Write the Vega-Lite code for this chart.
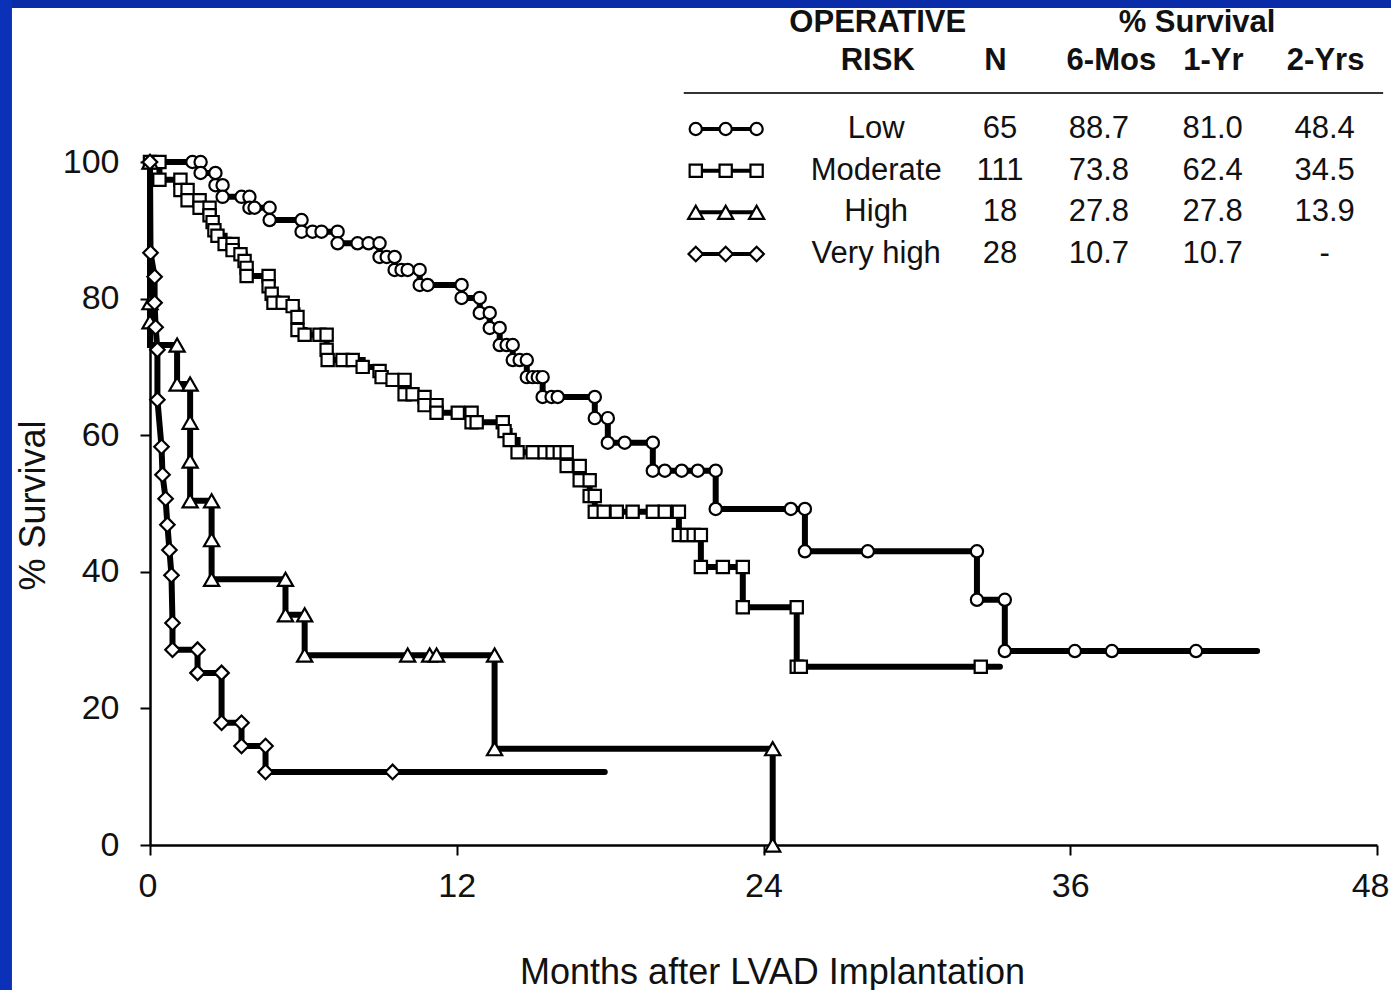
{
  "$schema": "https://vega.github.io/schema/vega-lite/v6.json",
  "width": 1227,
  "height": 683,
  "autosize": {"type": "none"},
  "padding": {"left": 150, "top": 162, "right": 14, "bottom": 145},
  "background": "white",
  "config": {"view": {"stroke": null}, "font": "Liberation Sans"},
  "datasets": {
    "km": [
      {"risk":"Low","month":0,"survival":100,"kind":"event"},
      {"risk":"Low","month":1.66,"survival":100,"kind":"event"},
      {"risk":"Low","month":1.98,"survival":100,"kind":"event"},
      {"risk":"Low","month":1.98,"survival":98.4,"kind":"event"},
      {"risk":"Low","month":2.56,"survival":98.4,"kind":"event"},
      {"risk":"Low","month":2.56,"survival":96.6,"kind":"event"},
      {"risk":"Low","month":2.84,"survival":96.6,"kind":"event"},
      {"risk":"Low","month":2.84,"survival":94.9,"kind":"event"},
      {"risk":"Low","month":3.58,"survival":94.9,"kind":"event"},
      {"risk":"Low","month":3.89,"survival":94.9,"kind":"event"},
      {"risk":"Low","month":3.89,"survival":93.3,"kind":"event"},
      {"risk":"Low","month":4.09,"survival":93.3,"kind":"event"},
      {"risk":"Low","month":4.68,"survival":93.3,"kind":"event"},
      {"risk":"Low","month":4.68,"survival":91.5,"kind":"event"},
      {"risk":"Low","month":5.93,"survival":91.5,"kind":"event"},
      {"risk":"Low","month":5.93,"survival":89.8,"kind":"event"},
      {"risk":"Low","month":6.36,"survival":89.8,"kind":"event"},
      {"risk":"Low","month":6.71,"survival":89.8,"kind":"event"},
      {"risk":"Low","month":7.34,"survival":89.8,"kind":"event"},
      {"risk":"Low","month":7.34,"survival":88.1,"kind":"event"},
      {"risk":"Low","month":8.12,"survival":88.1,"kind":"event"},
      {"risk":"Low","month":8.55,"survival":88.1,"kind":"event"},
      {"risk":"Low","month":8.98,"survival":88.1,"kind":"event"},
      {"risk":"Low","month":8.98,"survival":86.1,"kind":"event"},
      {"risk":"Low","month":9.26,"survival":86.1,"kind":"event"},
      {"risk":"Low","month":9.57,"survival":86.1,"kind":"event"},
      {"risk":"Low","month":9.57,"survival":84.2,"kind":"event"},
      {"risk":"Low","month":9.84,"survival":84.2,"kind":"event"},
      {"risk":"Low","month":10.08,"survival":84.2,"kind":"event"},
      {"risk":"Low","month":10.55,"survival":84.2,"kind":"event"},
      {"risk":"Low","month":10.55,"survival":82.0,"kind":"event"},
      {"risk":"Low","month":10.86,"survival":82.0,"kind":"event"},
      {"risk":"Low","month":12.19,"survival":82.0,"kind":"event"},
      {"risk":"Low","month":12.19,"survival":80.1,"kind":"event"},
      {"risk":"Low","month":12.90,"survival":80.1,"kind":"event"},
      {"risk":"Low","month":12.90,"survival":77.9,"kind":"event"},
      {"risk":"Low","month":13.29,"survival":77.9,"kind":"event"},
      {"risk":"Low","month":13.29,"survival":75.7,"kind":"event"},
      {"risk":"Low","month":13.68,"survival":75.7,"kind":"event"},
      {"risk":"Low","month":13.68,"survival":73.2,"kind":"event"},
      {"risk":"Low","month":13.95,"survival":73.2,"kind":"event"},
      {"risk":"Low","month":14.19,"survival":73.2,"kind":"event"},
      {"risk":"Low","month":14.19,"survival":71.0,"kind":"event"},
      {"risk":"Low","month":14.46,"survival":71.0,"kind":"event"},
      {"risk":"Low","month":14.74,"survival":71.0,"kind":"event"},
      {"risk":"Low","month":14.74,"survival":68.5,"kind":"event"},
      {"risk":"Low","month":14.97,"survival":68.5,"kind":"event"},
      {"risk":"Low","month":15.17,"survival":68.5,"kind":"event"},
      {"risk":"Low","month":15.36,"survival":68.5,"kind":"event"},
      {"risk":"Low","month":15.36,"survival":65.6,"kind":"event"},
      {"risk":"Low","month":15.71,"survival":65.6,"kind":"event"},
      {"risk":"Low","month":15.95,"survival":65.6,"kind":"event"},
      {"risk":"Low","month":17.40,"survival":65.6,"kind":"event"},
      {"risk":"Low","month":17.40,"survival":62.5,"kind":"event"},
      {"risk":"Low","month":17.91,"survival":62.5,"kind":"event"},
      {"risk":"Low","month":17.91,"survival":58.9,"kind":"event"},
      {"risk":"Low","month":18.57,"survival":58.9,"kind":"event"},
      {"risk":"Low","month":19.67,"survival":58.9,"kind":"event"},
      {"risk":"Low","month":19.67,"survival":54.8,"kind":"event"},
      {"risk":"Low","month":20.14,"survival":54.8,"kind":"event"},
      {"risk":"Low","month":20.80,"survival":54.8,"kind":"event"},
      {"risk":"Low","month":21.43,"survival":54.8,"kind":"event"},
      {"risk":"Low","month":22.13,"survival":54.8,"kind":"event"},
      {"risk":"Low","month":22.13,"survival":49.2,"kind":"event"},
      {"risk":"Low","month":25.07,"survival":49.2,"kind":"event"},
      {"risk":"Low","month":25.62,"survival":49.2,"kind":"event"},
      {"risk":"Low","month":25.62,"survival":43.0,"kind":"event"},
      {"risk":"Low","month":28.08,"survival":43.0,"kind":"event"},
      {"risk":"Low","month":32.35,"survival":43.0,"kind":"event"},
      {"risk":"Low","month":32.35,"survival":35.9,"kind":"event"},
      {"risk":"Low","month":33.44,"survival":35.9,"kind":"event"},
      {"risk":"Low","month":33.44,"survival":28.4,"kind":"event"},
      {"risk":"Low","month":36.18,"survival":28.4,"kind":"event"},
      {"risk":"Low","month":37.63,"survival":28.4,"kind":"event"},
      {"risk":"Low","month":40.92,"survival":28.4,"kind":"event"},
      {"risk":"Low","month":43.31,"survival":28.4,"kind":"end"},

      {"risk":"Moderate","month":0,"survival":100,"kind":"event"},
      {"risk":"Moderate","month":0.37,"survival":100,"kind":"event"},
      {"risk":"Moderate","month":0.37,"survival":97.4,"kind":"event"},
      {"risk":"Moderate","month":1.19,"survival":97.4,"kind":"event"},
      {"risk":"Moderate","month":1.19,"survival":95.9,"kind":"event"},
      {"risk":"Moderate","month":1.47,"survival":95.9,"kind":"event"},
      {"risk":"Moderate","month":1.47,"survival":94.4,"kind":"event"},
      {"risk":"Moderate","month":1.94,"survival":94.4,"kind":"event"},
      {"risk":"Moderate","month":1.94,"survival":93.3,"kind":"event"},
      {"risk":"Moderate","month":2.33,"survival":93.3,"kind":"event"},
      {"risk":"Moderate","month":2.33,"survival":92.2,"kind":"event"},
      {"risk":"Moderate","month":2.45,"survival":92.2,"kind":"corner"},
      {"risk":"Moderate","month":2.45,"survival":91.2,"kind":"event"},
      {"risk":"Moderate","month":2.52,"survival":91.2,"kind":"corner"},
      {"risk":"Moderate","month":2.52,"survival":90.0,"kind":"event"},
      {"risk":"Moderate","month":2.64,"survival":90.0,"kind":"corner"},
      {"risk":"Moderate","month":2.64,"survival":89.2,"kind":"event"},
      {"risk":"Moderate","month":2.92,"survival":89.2,"kind":"corner"},
      {"risk":"Moderate","month":2.92,"survival":88.0,"kind":"event"},
      {"risk":"Moderate","month":3.23,"survival":88.0,"kind":"event"},
      {"risk":"Moderate","month":3.23,"survival":87.1,"kind":"event"},
      {"risk":"Moderate","month":3.54,"survival":87.1,"kind":"corner"},
      {"risk":"Moderate","month":3.54,"survival":86.5,"kind":"event"},
      {"risk":"Moderate","month":3.70,"survival":86.5,"kind":"corner"},
      {"risk":"Moderate","month":3.70,"survival":85.5,"kind":"event"},
      {"risk":"Moderate","month":3.78,"survival":85.5,"kind":"corner"},
      {"risk":"Moderate","month":3.78,"survival":84.5,"kind":"event"},
      {"risk":"Moderate","month":3.78,"survival":83.3,"kind":"event"},
      {"risk":"Moderate","month":4.64,"survival":83.3,"kind":"event"},
      {"risk":"Moderate","month":4.64,"survival":81.8,"kind":"event"},
      {"risk":"Moderate","month":4.76,"survival":81.8,"kind":"corner"},
      {"risk":"Moderate","month":4.76,"survival":80.7,"kind":"event"},
      {"risk":"Moderate","month":4.83,"survival":80.7,"kind":"corner"},
      {"risk":"Moderate","month":4.83,"survival":79.4,"kind":"event"},
      {"risk":"Moderate","month":5.19,"survival":79.4,"kind":"event"},
      {"risk":"Moderate","month":5.19,"survival":78.9,"kind":"corner"},
      {"risk":"Moderate","month":5.58,"survival":78.9,"kind":"event"},
      {"risk":"Moderate","month":5.58,"survival":78.3,"kind":"corner"},
      {"risk":"Moderate","month":5.77,"survival":78.3,"kind":"corner"},
      {"risk":"Moderate","month":5.77,"survival":77.3,"kind":"event"},
      {"risk":"Moderate","month":5.77,"survival":75.4,"kind":"event"},
      {"risk":"Moderate","month":6.05,"survival":75.4,"kind":"corner"},
      {"risk":"Moderate","month":6.05,"survival":74.7,"kind":"event"},
      {"risk":"Moderate","month":6.63,"survival":74.7,"kind":"event"},
      {"risk":"Moderate","month":6.91,"survival":74.7,"kind":"event"},
      {"risk":"Moderate","month":6.91,"survival":72.5,"kind":"event"},
      {"risk":"Moderate","month":6.95,"survival":71.0,"kind":"event"},
      {"risk":"Moderate","month":7.53,"survival":71.0,"kind":"event"},
      {"risk":"Moderate","month":7.93,"survival":71.0,"kind":"event"},
      {"risk":"Moderate","month":8.32,"survival":71.0,"kind":"corner"},
      {"risk":"Moderate","month":8.32,"survival":70.0,"kind":"event"},
      {"risk":"Moderate","month":8.98,"survival":70.0,"kind":"corner"},
      {"risk":"Moderate","month":8.98,"survival":69.4,"kind":"event"},
      {"risk":"Moderate","month":9.06,"survival":69.4,"kind":"corner"},
      {"risk":"Moderate","month":9.06,"survival":68.5,"kind":"event"},
      {"risk":"Moderate","month":9.49,"survival":68.5,"kind":"corner"},
      {"risk":"Moderate","month":9.49,"survival":68.1,"kind":"event"},
      {"risk":"Moderate","month":9.96,"survival":68.1,"kind":"event"},
      {"risk":"Moderate","month":9.96,"survival":66.0,"kind":"event"},
      {"risk":"Moderate","month":10.27,"survival":66.0,"kind":"event"},
      {"risk":"Moderate","month":10.74,"survival":66.0,"kind":"corner"},
      {"risk":"Moderate","month":10.74,"survival":65.6,"kind":"event"},
      {"risk":"Moderate","month":10.74,"survival":64.4,"kind":"event"},
      {"risk":"Moderate","month":11.21,"survival":64.4,"kind":"event"},
      {"risk":"Moderate","month":11.21,"survival":63.3,"kind":"event"},
      {"risk":"Moderate","month":12.04,"survival":63.3,"kind":"event"},
      {"risk":"Moderate","month":12.58,"survival":63.3,"kind":"event"},
      {"risk":"Moderate","month":12.58,"survival":61.9,"kind":"event"},
      {"risk":"Moderate","month":12.78,"survival":61.9,"kind":"event"},
      {"risk":"Moderate","month":13.80,"survival":61.9,"kind":"event"},
      {"risk":"Moderate","month":13.87,"survival":61.9,"kind":"corner"},
      {"risk":"Moderate","month":13.87,"survival":60.6,"kind":"event"},
      {"risk":"Moderate","month":14.07,"survival":60.6,"kind":"corner"},
      {"risk":"Moderate","month":14.07,"survival":59.3,"kind":"event"},
      {"risk":"Moderate","month":14.38,"survival":59.3,"kind":"corner"},
      {"risk":"Moderate","month":14.38,"survival":57.5,"kind":"event"},
      {"risk":"Moderate","month":14.97,"survival":57.5,"kind":"event"},
      {"risk":"Moderate","month":15.44,"survival":57.5,"kind":"event"},
      {"risk":"Moderate","month":15.75,"survival":57.5,"kind":"event"},
      {"risk":"Moderate","month":16.03,"survival":57.5,"kind":"event"},
      {"risk":"Moderate","month":16.30,"survival":57.5,"kind":"event"},
      {"risk":"Moderate","month":16.30,"survival":55.5,"kind":"event"},
      {"risk":"Moderate","month":16.81,"survival":55.5,"kind":"event"},
      {"risk":"Moderate","month":16.81,"survival":53.4,"kind":"event"},
      {"risk":"Moderate","month":17.20,"survival":53.4,"kind":"event"},
      {"risk":"Moderate","month":17.20,"survival":51.1,"kind":"event"},
      {"risk":"Moderate","month":17.40,"survival":51.1,"kind":"event"},
      {"risk":"Moderate","month":17.40,"survival":48.8,"kind":"event"},
      {"risk":"Moderate","month":17.75,"survival":48.8,"kind":"event"},
      {"risk":"Moderate","month":18.26,"survival":48.8,"kind":"event"},
      {"risk":"Moderate","month":18.88,"survival":48.8,"kind":"event"},
      {"risk":"Moderate","month":19.67,"survival":48.8,"kind":"event"},
      {"risk":"Moderate","month":20.14,"survival":48.8,"kind":"event"},
      {"risk":"Moderate","month":20.69,"survival":48.8,"kind":"event"},
      {"risk":"Moderate","month":20.69,"survival":45.4,"kind":"event"},
      {"risk":"Moderate","month":21.00,"survival":45.4,"kind":"event"},
      {"risk":"Moderate","month":21.27,"survival":45.4,"kind":"event"},
      {"risk":"Moderate","month":21.55,"survival":45.4,"kind":"event"},
      {"risk":"Moderate","month":21.55,"survival":40.7,"kind":"event"},
      {"risk":"Moderate","month":22.41,"survival":40.7,"kind":"event"},
      {"risk":"Moderate","month":23.19,"survival":40.7,"kind":"event"},
      {"risk":"Moderate","month":23.19,"survival":34.8,"kind":"event"},
      {"risk":"Moderate","month":25.30,"survival":34.8,"kind":"event"},
      {"risk":"Moderate","month":25.30,"survival":26.1,"kind":"event"},
      {"risk":"Moderate","month":25.46,"survival":26.1,"kind":"event"},
      {"risk":"Moderate","month":32.50,"survival":26.1,"kind":"event"},
      {"risk":"Moderate","month":33.25,"survival":26.1,"kind":"end"},

      {"risk":"High","month":0,"survival":100,"kind":"event"},
      {"risk":"High","month":0,"survival":79.4,"kind":"event"},
      {"risk":"High","month":0,"survival":76.6,"kind":"event"},
      {"risk":"High","month":0,"survival":73.2,"kind":"corner"},
      {"risk":"High","month":1.06,"survival":73.2,"kind":"event"},
      {"risk":"High","month":1.06,"survival":67.5,"kind":"event"},
      {"risk":"High","month":1.57,"survival":67.5,"kind":"event"},
      {"risk":"High","month":1.57,"survival":61.9,"kind":"event"},
      {"risk":"High","month":1.57,"survival":56.2,"kind":"event"},
      {"risk":"High","month":1.57,"survival":50.4,"kind":"event"},
      {"risk":"High","month":2.41,"survival":50.4,"kind":"event"},
      {"risk":"High","month":2.41,"survival":44.7,"kind":"event"},
      {"risk":"High","month":2.41,"survival":38.9,"kind":"event"},
      {"risk":"High","month":5.30,"survival":38.9,"kind":"event"},
      {"risk":"High","month":5.30,"survival":33.7,"kind":"event"},
      {"risk":"High","month":6.05,"survival":33.7,"kind":"event"},
      {"risk":"High","month":6.05,"survival":27.8,"kind":"event"},
      {"risk":"High","month":10.08,"survival":27.8,"kind":"event"},
      {"risk":"High","month":10.94,"survival":27.8,"kind":"event"},
      {"risk":"High","month":11.21,"survival":27.8,"kind":"event"},
      {"risk":"High","month":13.48,"survival":27.8,"kind":"event"},
      {"risk":"High","month":13.48,"survival":14.1,"kind":"event"},
      {"risk":"High","month":24.36,"survival":14.1,"kind":"event"},
      {"risk":"High","month":24.36,"survival":0,"kind":"event"},

      {"risk":"Very high","month":0,"survival":100,"kind":"event"},
      {"risk":"Very high","month":0.02,"survival":86.7,"kind":"event"},
      {"risk":"Very high","month":0.18,"survival":83.2,"kind":"event"},
      {"risk":"Very high","month":0.18,"survival":79.4,"kind":"event"},
      {"risk":"Very high","month":0.22,"survival":75.8,"kind":"event"},
      {"risk":"Very high","month":0.29,"survival":72.5,"kind":"event"},
      {"risk":"Very high","month":0.29,"survival":65.2,"kind":"event"},
      {"risk":"Very high","month":0.45,"survival":58.3,"kind":"event"},
      {"risk":"Very high","month":0.49,"survival":54.2,"kind":"event"},
      {"risk":"Very high","month":0.61,"survival":50.7,"kind":"event"},
      {"risk":"Very high","month":0.68,"survival":46.9,"kind":"event"},
      {"risk":"Very high","month":0.76,"survival":43.2,"kind":"event"},
      {"risk":"Very high","month":0.84,"survival":39.5,"kind":"event"},
      {"risk":"Very high","month":0.88,"survival":32.5,"kind":"event"},
      {"risk":"Very high","month":0.88,"survival":28.6,"kind":"event"},
      {"risk":"Very high","month":1.86,"survival":28.6,"kind":"event"},
      {"risk":"Very high","month":1.86,"survival":25.2,"kind":"event"},
      {"risk":"Very high","month":2.80,"survival":25.2,"kind":"event"},
      {"risk":"Very high","month":2.80,"survival":17.9,"kind":"event"},
      {"risk":"Very high","month":3.58,"survival":17.9,"kind":"event"},
      {"risk":"Very high","month":3.58,"survival":14.5,"kind":"event"},
      {"risk":"Very high","month":4.52,"survival":14.5,"kind":"event"},
      {"risk":"Very high","month":4.52,"survival":10.7,"kind":"event"},
      {"risk":"Very high","month":9.49,"survival":10.7,"kind":"event"},
      {"risk":"Very high","month":17.79,"survival":10.7,"kind":"end"}
    ],
    "table": [
      {"risk":"Low","n":"65","m6":"88.7","y1":"81.0","y2":"48.4"},
      {"risk":"Moderate","n":"111","m6":"73.8","y1":"62.4","y2":"34.5"},
      {"risk":"High","n":"18","m6":"27.8","y1":"27.8","y2":"13.9"},
      {"risk":"Very high","n":"28","m6":"10.7","y1":"10.7","y2":"-"}
    ]
  },
  "layer": [
    {
      "layer": [
        {
          "data": {"name": "km"},
          "encoding": {
            "x": {
              "field": "month", "type": "quantitative",
              "title": "Months after LVAD Implantation",
              "scale": {"domain": [0, 48], "nice": false, "zero": false},
              "axis": {
                "orient": "bottom", "values": [0, 12, 24, 36, 48],
                "domain": true, "domainColor": "black", "domainWidth": 2.5, "grid": false,
                "tickSize": 10, "tickWidth": 2, "tickColor": "black",
                "labelFont": "Liberation Sans", "labelFontSize": 34, "labelColor": "#111111",
                "labelPadding": 14, "labelFlush": true, "labelFlushOffset": 12, "labelOverlap": false,
                "title": "Months after LVAD Implantation",
                "titleFont": "Liberation Sans", "titleFontSize": 36, "titleFontWeight": "normal", "titleColor": "#111111",
                "titleX": 622, "titleY": 138, "titleBaseline": "alphabetic", "titleAlign": "center"
              }
            },
            "y": {
              "field": "survival", "type": "quantitative",
              "title": "% Survival",
              "scale": {"domain": [0, 100], "nice": false, "zero": false},
              "axis": {
                "orient": "left", "values": [0, 20, 40, 60, 80, 100],
                "domain": true, "domainColor": "black", "domainWidth": 2.5, "grid": false,
                "tickSize": 10, "tickWidth": 2, "tickColor": "black",
                "labelFont": "Liberation Sans", "labelFontSize": 34, "labelColor": "#111111",
                "labelPadding": 21, "labelFlush": false, "labelOverlap": false,
                "title": "% Survival",
                "titleFont": "Liberation Sans", "titleFontSize": 36, "titleFontWeight": "normal", "titleColor": "#111111",
                "titleX": -106, "titleY": 343, "titleAngle": -90, "titleBaseline": "alphabetic", "titleAlign": "center"
              }
            }
          },
          "layer": [
            {
              "mark": {"type": "line", "color": "black", "strokeWidth": 6, "strokeJoin": "miter", "strokeCap": "round", "clip": false},
              "encoding": {"detail": {"field": "risk"}, "order": {"value": null}}
            },
            {
              "transform": [{"filter": "datum.kind === 'event'"}],
              "mark": {"type": "point", "filled": true, "fill": "white", "stroke": "black", "strokeWidth": 2.2, "opacity": 1, "clip": false},
              "encoding": {
                "shape": {"field": "risk", "type": "nominal", "scale": {"domain": ["Low", "Moderate", "High", "Very high"], "range": ["circle", "square", "triangle-up", "diamond"]}, "legend": null},
                "size": {"field": "risk", "type": "ordinal", "scale": {"type": "ordinal", "domain": ["Low", "Moderate", "High", "Very high"], "range": [150, 150, 230, 210]}, "legend": null}
              }
            }
          ]
        },
        {
          "data": {"values": [{"part": "slide frame top"}]},
          "mark": {"type": "rect", "color": "#0b2ca8", "clip": false},
          "encoding": {
            "x": {"datum": -10}, "x2": {"datum": 60},
            "y": {"datum": 122.55}, "y2": {"datum": 150}
          }
        },
        {
          "data": {"values": [{"part": "slide frame left"}]},
          "mark": {"type": "rect", "color": "#0b31b8", "clip": false},
          "encoding": {
            "x": {"datum": -10}, "x2": {"datum": -5.4},
            "y": {"datum": -40}, "y2": {"datum": 150}
          }
        },
        {
          "data": {"values": [{"part": "header rule"}]},
          "mark": {"type": "rule", "color": "#333333", "strokeWidth": 2},
          "encoding": {"x": {"datum": 20.88}, "x2": {"datum": 48.24}, "y": {"datum": 110.1}}
        },
        {
          "data": {"values": [{"h": "OPERATIVE"}]},
          "mark": {"type": "text", "fontSize": 31, "fontWeight": "bold", "color": "#111111", "align": "center", "baseline": "middle"},
          "encoding": {"x": {"datum": 28.47}, "y": {"datum": 120.3}, "text": {"field": "h"}}
        },
        {
          "data": {"values": [{"h": "% Survival"}]},
          "mark": {"type": "text", "fontSize": 31, "fontWeight": "bold", "color": "#111111", "align": "center", "baseline": "middle"},
          "encoding": {"x": {"datum": 40.96}, "y": {"datum": 120.3}, "text": {"field": "h"}}
        },
        {
          "data": {"values": [{"h": "RISK"}]},
          "mark": {"type": "text", "fontSize": 31, "fontWeight": "bold", "color": "#111111", "align": "center", "baseline": "middle"},
          "encoding": {"x": {"datum": 28.47}, "y": {"datum": 114.8}, "text": {"field": "h"}}
        },
        {
          "data": {"values": [{"h": "N"}]},
          "mark": {"type": "text", "fontSize": 31, "fontWeight": "bold", "color": "#111111", "align": "center", "baseline": "middle"},
          "encoding": {"x": {"datum": 33.07}, "y": {"datum": 114.8}, "text": {"field": "h"}}
        },
        {
          "data": {"values": [{"h": "6-Mos"}]},
          "mark": {"type": "text", "fontSize": 31, "fontWeight": "bold", "color": "#111111", "align": "center", "baseline": "middle"},
          "encoding": {"x": {"datum": 37.61}, "y": {"datum": 114.8}, "text": {"field": "h"}}
        },
        {
          "data": {"values": [{"h": "1-Yr"}]},
          "mark": {"type": "text", "fontSize": 31, "fontWeight": "bold", "color": "#111111", "align": "center", "baseline": "middle"},
          "encoding": {"x": {"datum": 41.6}, "y": {"datum": 114.8}, "text": {"field": "h"}}
        },
        {
          "data": {"values": [{"h": "2-Yrs"}]},
          "mark": {"type": "text", "fontSize": 31, "fontWeight": "bold", "color": "#111111", "align": "center", "baseline": "middle"},
          "encoding": {"x": {"datum": 45.99}, "y": {"datum": 114.8}, "text": {"field": "h"}}
        }
      ]
    },
    {
      "data": {"name": "table"},
      "encoding": {
        "y": {"field": "risk", "type": "nominal", "scale": {"type": "point", "domain": ["Low", "Moderate", "High", "Very high"], "range": [-33, 92], "padding": 0}, "axis": null}
      },
      "layer": [
        {
          "mark": {"type": "rule", "color": "black", "strokeWidth": 4},
          "encoding": {"x": {"datum": 21.35}, "x2": {"datum": 23.73}}
        },
        {
          "mark": {"type": "point", "filled": true, "fill": "white", "stroke": "black", "strokeWidth": 2.2, "opacity": 1},
          "encoding": {
            "x": {"datum": 21.35},
            "shape": {"field": "risk", "type": "nominal", "scale": {"domain": ["Low", "Moderate", "High", "Very high"], "range": ["circle", "square", "triangle-up", "diamond"]}, "legend": null},
            "size": {"field": "risk", "type": "ordinal", "scale": {"type": "ordinal", "domain": ["Low", "Moderate", "High", "Very high"], "range": [150, 150, 230, 210]}, "legend": null}
          }
        },
        {
          "mark": {"type": "point", "filled": true, "fill": "white", "stroke": "black", "strokeWidth": 2.2, "opacity": 1},
          "encoding": {
            "x": {"datum": 22.52},
            "shape": {"field": "risk", "type": "nominal", "scale": {"domain": ["Low", "Moderate", "High", "Very high"], "range": ["circle", "square", "triangle-up", "diamond"]}, "legend": null},
            "size": {"field": "risk", "type": "ordinal", "scale": {"type": "ordinal", "domain": ["Low", "Moderate", "High", "Very high"], "range": [150, 150, 230, 210]}, "legend": null}
          }
        },
        {
          "mark": {"type": "point", "filled": true, "fill": "white", "stroke": "black", "strokeWidth": 2.2, "opacity": 1},
          "encoding": {
            "x": {"datum": 23.73},
            "shape": {"field": "risk", "type": "nominal", "scale": {"domain": ["Low", "Moderate", "High", "Very high"], "range": ["circle", "square", "triangle-up", "diamond"]}, "legend": null},
            "size": {"field": "risk", "type": "ordinal", "scale": {"type": "ordinal", "domain": ["Low", "Moderate", "High", "Very high"], "range": [150, 150, 230, 210]}, "legend": null}
          }
        },
        {
          "mark": {"type": "text", "fontSize": 31, "color": "#111111", "align": "center", "baseline": "middle"},
          "encoding": {"x": {"datum": 28.41}, "text": {"field": "risk"}}
        },
        {
          "mark": {"type": "text", "fontSize": 31, "color": "#111111", "align": "center", "baseline": "middle"},
          "encoding": {"x": {"datum": 33.25}, "text": {"field": "n"}}
        },
        {
          "mark": {"type": "text", "fontSize": 31, "color": "#111111", "align": "center", "baseline": "middle"},
          "encoding": {"x": {"datum": 37.12}, "text": {"field": "m6"}}
        },
        {
          "mark": {"type": "text", "fontSize": 31, "color": "#111111", "align": "center", "baseline": "middle"},
          "encoding": {"x": {"datum": 41.57}, "text": {"field": "y1"}}
        },
        {
          "mark": {"type": "text", "fontSize": 31, "color": "#111111", "align": "center", "baseline": "middle"},
          "encoding": {"x": {"datum": 45.95}, "text": {"field": "y2"}}
        }
      ]
    }
  ],
  "resolve": {"scale": {"y": "independent"}}
}
